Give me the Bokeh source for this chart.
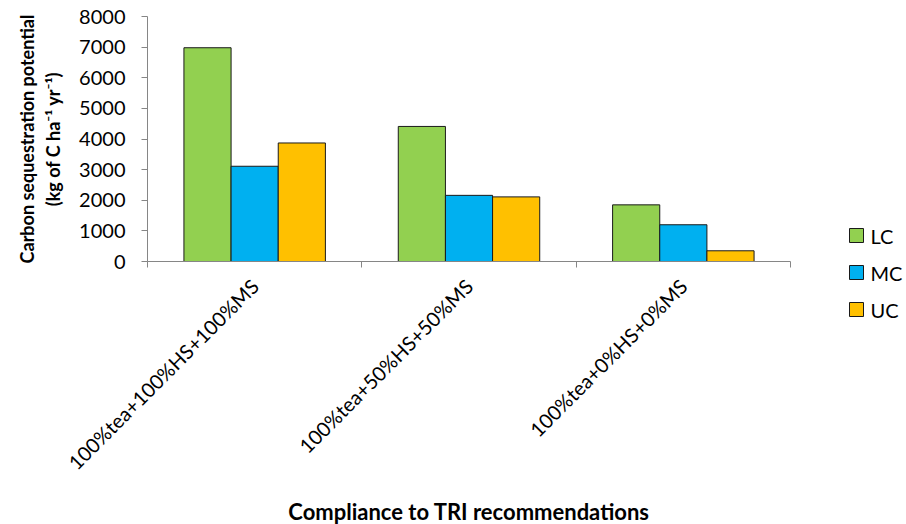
import numpy as np
from bokeh.plotting import figure
from bokeh.layouts import row
from bokeh.core.properties import value
from bokeh.models import ColumnDataSource, FixedTicker, Range1d
from bokeh.embed import file_html
from bokeh.resources import INLINE

categories = ["100%tea+100%HS+100%MS", "100%tea+50%HS+50%MS", "100%tea+0%HS+0%MS"]
series = ["LC", "MC", "UC"]
LC = [6980, 4410, 1850]
MC = [3110, 2160, 1200]
UC = [3870, 2110, 350]
colors = ["#92D050", "#00B0F0", "#FFC000"]
y_ticks = [0, 1000, 2000, 3000, 4000, 5000, 6000, 7000, 8000]

FONT = "Lato"
bar_w = 0.22
OUTLINE = "#1a1a1a"

p = figure(frame_width=643, frame_height=245, output_backend="svg", toolbar_location=None,
           x_range=Range1d(0, len(categories)), y_range=Range1d(0, 8000),
           min_border_left=147, min_border_right=1, min_border_top=16, min_border_bottom=263)
p.outline_line_color = None
p.xgrid.grid_line_color = None
p.ygrid.grid_line_color = None
p.background_fill_color = "white"
p.border_fill_color = "white"

centers = np.arange(len(categories)) + 0.5
for k, (name, vals, col) in enumerate(zip(series, [LC, MC, UC], colors)):
    src = ColumnDataSource(dict(x=centers + (k - 1) * bar_w, top=vals))
    p.vbar(x="x", top="top", width=bar_w, bottom=0, source=src,
           fill_color=col, line_color=OUTLINE, line_width=1)

# x axis
p.xaxis.ticker = FixedTicker(ticks=list(centers), minor_ticks=list(range(len(categories) + 1)))
p.xaxis.major_label_overrides = {float(c): lab for c, lab in zip(centers, categories)}
p.xaxis.major_tick_line_color = None
p.xaxis.minor_tick_in = 0
p.xaxis.minor_tick_out = 6
p.xaxis.minor_tick_line_color = "#868686"
p.xaxis.axis_line_color = "#868686"
p.xaxis.major_label_orientation = np.pi / 4
p.xaxis.major_label_text_font = FONT
p.xaxis.major_label_text_font_size = "20px"
p.xaxis.major_label_text_color = "black"
p.xaxis.major_label_standoff = 15
p.xaxis.axis_label = "Compliance to TRI recommendations"
p.xaxis.axis_label_text_font = FONT
p.xaxis.axis_label_text_font_style = "bold"
p.xaxis.axis_label_text_font_size = "22px"
p.xaxis.axis_label_text_color = "black"
p.xaxis.axis_label_standoff = 12

# y axis
p.yaxis.ticker = FixedTicker(ticks=y_ticks)
p.yaxis.minor_tick_line_color = None
p.yaxis.major_tick_in = 0
p.yaxis.major_tick_out = 6
p.yaxis.major_tick_line_color = "#868686"
p.yaxis.axis_line_color = "#868686"
p.yaxis.major_label_text_font = FONT
p.yaxis.major_label_text_font_size = "20px"
p.yaxis.major_label_text_color = "black"
p.yaxis.major_label_standoff = 16
p.yaxis.axis_label = "Carbon sequestration potential\n(kg of C ha\u207b\u00b9 yr\u207b\u00b9)"
p.yaxis.axis_label_text_font = FONT
p.yaxis.axis_label_text_font_style = "bold"
p.yaxis.axis_label_text_font_size = "18px"
p.yaxis.axis_label_text_color = "black"
p.yaxis.axis_label_standoff = 12

# legend panel: a small pixel-space figure to the right of the chart
LW, LH = 115, 524
lg = figure(frame_width=LW, frame_height=LH, output_backend="svg", toolbar_location=None,
            x_range=Range1d(0, LW), y_range=Range1d(LH, 0),
            min_border_left=0, min_border_right=0, min_border_top=0, min_border_bottom=0)
lg.axis.visible = False
lg.xgrid.grid_line_color = None
lg.ygrid.grid_line_color = None
lg.outline_line_color = None
lg.background_fill_color = "white"
lg.border_fill_color = "white"

leg_x, leg_y0, leg_pitch = 65, 219, 37
ly = [leg_y0 + i * leg_pitch for i in range(len(series))]
lsrc = ColumnDataSource(dict(x=[leg_x] * len(series), y=ly, tx=[leg_x + 14] * len(series),
                             label=series, color=colors))
lg.scatter(x="x", y="y", marker="square", size=14, fill_color="color",
           line_color=OUTLINE, line_width=1, source=lsrc)
lg.text(x="tx", y="y", text="label", source=lsrc, text_font=value(FONT),
        text_font_size="20px", text_baseline="middle", text_align="left", text_color="black")

layout = row(p, lg)
open("out.html", "w").write(file_html(layout, INLINE))
